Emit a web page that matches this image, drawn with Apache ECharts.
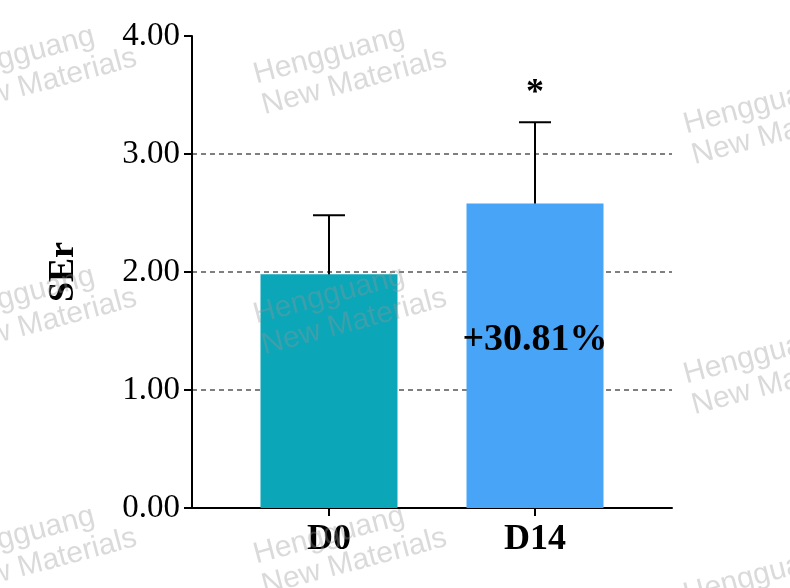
<!DOCTYPE html>
<html><head><meta charset="utf-8">
<script src="https://cdn.jsdelivr.net/npm/echarts@6/dist/echarts.min.js"></script>
<style>html,body{margin:0;background:#fff}#c{width:790px;height:588px}</style>
</head><body><div id="c"></div>
<script>
var categories = ['D0', 'D14'];
var means = [1.98, 2.58];
var errTops = [2.48, 3.27];
var barColors = ['#0ba6b8', '#48a4f6'];
var yTicks = [0, 1, 2, 3, 4];
var pctLabel = '+30.81%';
var sigMark = '*';

var chart = echarts.init(document.getElementById('c'));
var serif = '"Liberation Serif", "Times New Roman", serif';

// 水印
var wm = [];
[[250, 60], [250, 300], [250, 540], [-60, 60], [-60, 300], [-60, 540], [680, 110], [680, 360], [680, 580]].forEach(function (p) {
    wm.push({
        type: 'text', x: p[0], y: p[1], rotation: 0.26, z: 100,
        style: { text: 'Hengguang\nNew Materials', fill: 'rgba(150,150,150,0.35)', font: '30px "Liberation Sans", sans-serif', lineHeight: 32 }
    });
});

var barData = means.map(function (v, i) {
    return { value: [i, v], itemStyle: { color: barColors[i] } };
});

option = {
    animation: false,
    grid: { left: 192, right: 118, top: 36, bottom: 80 },
    xAxis: {
        type: 'value', min: -0.665, max: 1.665,
        splitLine: { show: false },
        axisLine: { onZero: false, lineStyle: { color: '#000', width: 2 } },
        axisTick: { customValues: [0, 1], length: 8, lineStyle: { color: '#000', width: 2 } },
        axisLabel: {
            customValues: [0, 1], margin: 14,
            formatter: function (v) { return categories[Math.round(v)]; },
            color: '#000', fontFamily: serif, fontWeight: 'bold', fontSize: 36
        }
    },
    yAxis: {
        type: 'value', min: 0, max: 4, interval: 1,
        name: 'SEr', nameLocation: 'middle', nameGap: 110,
        nameTextStyle: { color: '#000', fontFamily: serif, fontWeight: 'bold', fontSize: 36 },
        axisLine: { show: true, onZero: false, lineStyle: { color: '#000', width: 2 } },
        axisTick: { show: true, length: 8, lineStyle: { color: '#000', width: 2 } },
        axisLabel: {
            color: '#000', fontFamily: serif, fontSize: 33, margin: 12,
            formatter: function (v) { return v.toFixed(2); }
        },
        splitLine: {
            show: true, showMinLine: false, showMaxLine: false,
            lineStyle: { color: '#555', type: [5, 4], width: 1.5 }
        }
    },
    graphic: wm,
    series: [{
        type: 'bar', data: barData, barWidth: 137, z: 2
    }, {
        type: 'custom', z: 3,
        data: means.map(function (v, i) { return [i, v, errTops[i]]; }),
        renderItem: function (params, api) {
            var b = api.coord([api.value(0), api.value(1)]);
            var t = api.coord([api.value(0), api.value(2)]);
            var children = [
                { type: 'line', shape: { x1: b[0], y1: b[1], x2: t[0], y2: t[1] }, style: { stroke: '#000', lineWidth: 2 } },
                { type: 'line', shape: { x1: t[0] - 16, y1: t[1], x2: t[0] + 16, y2: t[1] }, style: { stroke: '#000', lineWidth: 2 } }
            ];
            if (params.dataIndex === 1) {
                children.push({ type: 'text', x: t[0], y: t[1] - 28, style: { text: sigMark, font: 'bold 36px ' + serif, fill: '#000', align: 'center', verticalAlign: 'middle' } });
                var m = api.coord([api.value(0), 1.42]);
                children.push({ type: 'text', x: m[0], y: m[1], style: { text: pctLabel, font: 'bold 38px ' + serif, fill: '#000', align: 'center', verticalAlign: 'middle' } });
            }
            return { type: 'group', children: children };
        }
    }]
};
chart.setOption(option);
</script>
</body></html>
